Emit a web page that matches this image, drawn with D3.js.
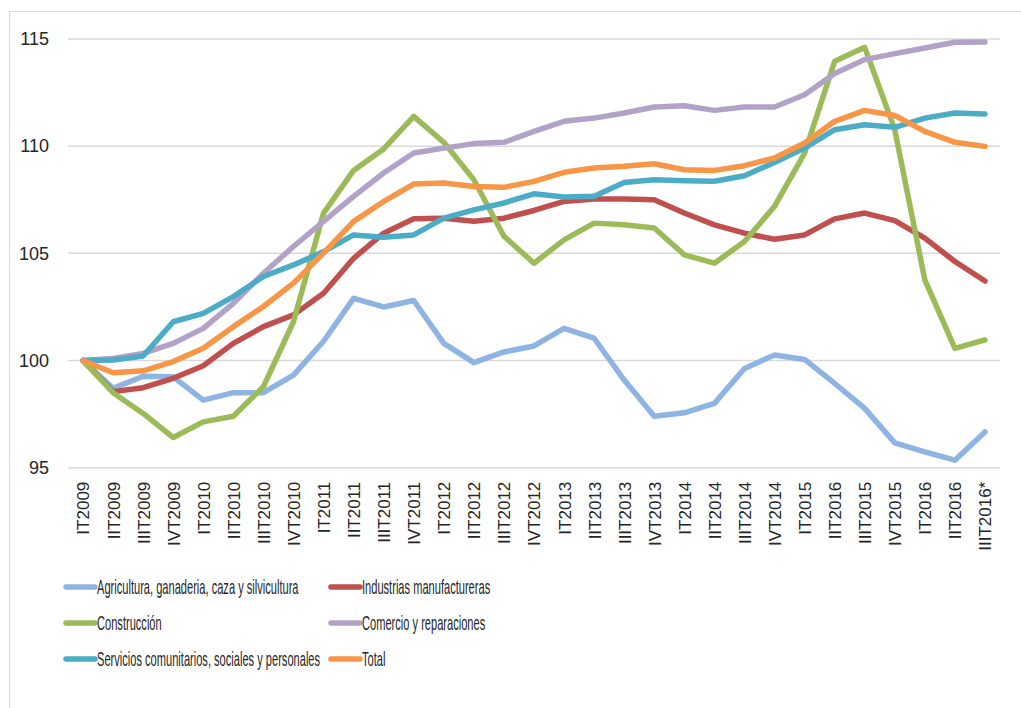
<!DOCTYPE html>
<html>
<head>
<meta charset="utf-8">
<script src="https://cdn.jsdelivr.net/npm/d3@7"></script>
<style>
  body { margin: 0; background: #fff; }
  text { font-family: "Liberation Sans", Arial, sans-serif; fill: #262626; }
</style>
</head>
<body>
<div id="graph"></div>
<script>
// chart size
var width = 1021;
var height = 708;

// categories (note: original labels include "IIT2016" in place of IIT2015)
var quarters = ["IT2009", "IIT2009", "IIIT2009", "IVT2009", "IT2010", "IIT2010", "IIIT2010", "IVT2010",
  "IT2011", "IIT2011", "IIIT2011", "IVT2011", "IT2012", "IIT2012", "IIIT2012", "IVT2012",
  "IT2013", "IIT2013", "IIIT2013", "IVT2013", "IT2014", "IIT2014", "IIIT2014", "IVT2014",
  "IT2015", "IIT2016", "IIIT2015", "IVT2015", "IT2016", "IIT2016 ", "IIIT2016*"];

var yTicks = [95, 100, 105, 110, 115];

// series values
var agricultura = [100, 98.7, 99.27, 99.24, 98.15, 98.5, 98.5, 99.32, 100.9, 102.9, 102.5, 102.8,
  100.8, 99.9, 100.4, 100.68, 101.5, 101.04, 99.09, 97.4, 97.56, 98.0, 99.63, 100.26,
  100.05, 98.93, 97.77, 96.16, 95.74, 95.35, 96.67];
var industrias = [100, 98.55, 98.73, 99.17, 99.76, 100.8, 101.58, 102.13, 103.14, 104.77, 105.94, 106.61,
  106.64, 106.5, 106.64, 107.0, 107.42, 107.53, 107.53, 107.5, 106.88, 106.33, 105.94, 105.66,
  105.86, 106.61, 106.88, 106.53, 105.71, 104.62, 103.71];
var construccion = [100, 98.5, 97.53, 96.41, 97.14, 97.4, 98.78, 101.81, 106.88, 108.87, 109.87, 111.39,
  110.18, 108.43, 105.8, 104.54, 105.63, 106.41, 106.33, 106.18, 104.93, 104.54, 105.55, 107.19,
  109.68, 113.96, 114.61, 110.77, 103.76, 100.57, 100.96];
var comercio = [100, 100.1, 100.33, 100.8, 101.5, 102.67, 104.07, 105.32, 106.49, 107.66, 108.75, 109.68,
  109.91, 110.12, 110.18, 110.69, 111.16, 111.31, 111.55, 111.83, 111.89, 111.67, 111.83, 111.83,
  112.4, 113.39, 114.04, 114.32, 114.58, 114.85, 114.86];
var servicios = [100, 100.02, 100.21, 101.81, 102.2, 102.98, 103.92, 104.46, 105.08, 105.86, 105.75, 105.86,
  106.64, 107.03, 107.35, 107.78, 107.63, 107.66, 108.31, 108.43, 108.39, 108.36, 108.62, 109.24,
  109.91, 110.77, 111.0, 110.88, 111.31, 111.55, 111.5];
var total = [100, 99.43, 99.52, 99.95, 100.57, 101.58, 102.52, 103.61, 105.01, 106.49, 107.42, 108.23,
  108.28, 108.12, 108.08, 108.36, 108.78, 108.98, 109.06, 109.18, 108.9, 108.87, 109.09, 109.45,
  110.15, 111.16, 111.67, 111.43, 110.69, 110.18, 109.99];

var seriesNames = ["Agricultura, ganaderia, caza y silvicultura", "Industrias manufactureras",
  "Construcción", "Comercio y reparaciones",
  "Servicios comunitarios, sociales y personales", "Total"];
var seriesValues = [agricultura, industrias, construccion, comercio, servicios, total];
var colors = ["#8db4e2", "#c0504d", "#9bbb59", "#b3a2c7", "#4bacc6", "#f79646"];

var svg = d3.select("#graph")
  .append("svg")
  .attr("width", width)
  .attr("height", height);

// chart frame
svg.append("rect")
  .attr("x", 9.5).attr("y", 11.5)
  .attr("width", 1030).attr("height", 720)
  .attr("fill", "none")
  .attr("stroke", "#d9d9d9");

// scales
var xScale = d3.scalePoint()
  .domain(quarters)
  .range([68, 1000])
  .padding(0.5);

var yScale = d3.scaleLinear()
  .domain([95, 115])
  .range([467.7, 39]);

// gridlines
svg.append("g")
  .selectAll("line")
  .data(yTicks)
  .join("line")
  .attr("x1", 68).attr("x2", 1000)
  .attr("y1", function(d) { return yScale(d); })
  .attr("y2", function(d) { return yScale(d); })
  .attr("stroke", "#d9d9d9")
  .attr("stroke-width", 1.5);

// y axis
var yAxis = svg.append("g")
  .attr("transform", "translate(49,0)")
  .call(d3.axisLeft(yScale).tickValues(yTicks).tickSize(0).tickPadding(0));
yAxis.select(".domain").remove();
yAxis.selectAll("text")
  .style("font-size", "18px")
  .attr("fill", "#262626");

// x axis
var xAxis = svg.append("g")
  .attr("transform", "translate(0,467.7)")
  .call(d3.axisBottom(xScale).tickSize(0).tickFormat(function(d) { return d.trim(); }));
xAxis.select(".domain").remove();
xAxis.selectAll("text")
  .style("font-size", "17px")
  .attr("fill", "#262626")
  .attr("text-anchor", "end")
  .attr("transform", "rotate(-90)")
  .attr("x", -14)
  .attr("y", 0)
  .attr("dy", "0.35em");

// lines
var line = d3.line()
  .x(function(d, i) { return xScale(quarters[i]); })
  .y(function(d) { return yScale(d); });

for (var i = 0; i < seriesValues.length; i++) {
  svg.append("path")
    .datum(seriesValues[i])
    .attr("fill", "none")
    .attr("stroke", colors[i])
    .attr("stroke-width", 5.5)
    .attr("stroke-linejoin", "round")
    .attr("stroke-linecap", "round")
    .attr("d", line);
}

// legend (text squeezed horizontally to mimic the narrow original font)
var legendCols = [66, 331];
var legendRows = [587, 623, 659];
var squeeze = 0.555;
var legend = svg.append("g");
seriesNames.forEach(function(name, i) {
  var lx = legendCols[i % 2];
  var ly = legendRows[Math.floor(i / 2)];
  legend.append("line")
    .attr("x1", lx).attr("x2", lx + 29)
    .attr("y1", ly).attr("y2", ly)
    .attr("stroke", colors[i])
    .attr("stroke-width", 5.5)
    .attr("stroke-linecap", "round");
  legend.append("text")
    .attr("transform", "translate(" + (lx + 31) + "," + ly + ") scale(" + squeeze + ",1)")
    .attr("dy", "0.35em")
    .style("font-size", "20px")
    .text(name);
});
</script>
</body>
</html>
